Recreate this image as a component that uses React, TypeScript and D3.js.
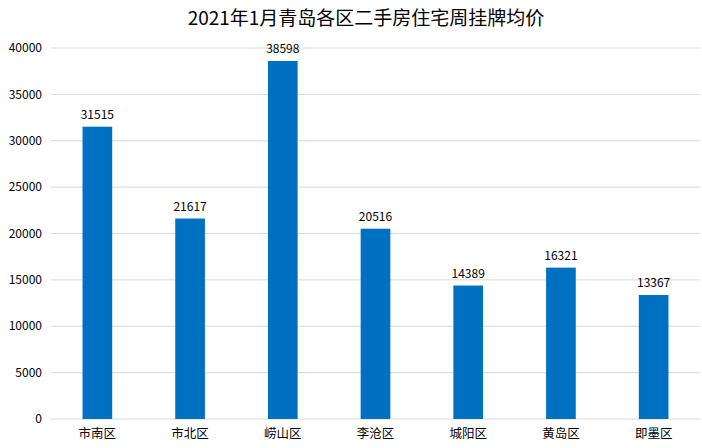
import * as d3 from 'd3'

const districts = ['市南区', '市北区', '崂山区', '李沧区', '城阳区', '黄岛区', '即墨区']
const prices = [31515, 21617, 38598, 20516, 14389, 16321, 13367]
const yTicks = [0, 5000, 10000, 15000, 20000, 25000, 30000, 35000, 40000]

const W = 702
const H = 448
const margin = { top: 48, right: 2, bottom: 29, left: 51 }
const font = '"Noto Sans CJK SC", "Noto Sans", sans-serif'

export default function App() {
  const x = d3.scaleBand().domain(districts).range([margin.left, W - margin.right]).paddingInner(0.68).paddingOuter(0.34)
  const y = d3.scaleLinear().domain([0, 40000]).range([H - margin.bottom, margin.top])

  return (
    <svg width={W} height={H} style={{ position: 'absolute', left: 0, top: 0, fontFamily: font }}>
      <rect width={W} height={H} fill="#fff" />
      <text x={W / 2 + 15} y={25} textAnchor="middle" fontSize={19} fill="#000">
        2021年1月青岛各区二手房住宅周挂牌均价
      </text>

      {/* Grid + y labels */}
      {yTicks.map(t => (
        <g key={t}>
          <line x1={margin.left} x2={W - margin.right} y1={y(t)} y2={y(t)} stroke="#d9d9d9" strokeWidth={1} />
          <text x={42} y={y(t)} dy="0.35em" textAnchor="end" fontSize={12} fill="#000">{t}</text>
        </g>
      ))}

      {/* Bars */}
      {districts.map((d, i) => (
        <g key={d}>
          <rect x={x(d)} y={y(prices[i])} width={x.bandwidth()} height={y(0) - y(prices[i])} fill="#0070c0" />
          <text x={(x(d) ?? 0) + x.bandwidth() / 2} y={y(prices[i]) - 8} textAnchor="middle" fontSize={12} fill="#000">
            {prices[i]}
          </text>
          <text x={(x(d) ?? 0) + x.bandwidth() / 2} y={y(0) + 19} textAnchor="middle" fontSize={12.5} fill="#000">
            {d}
          </text>
        </g>
      ))}
    </svg>
  )
}
